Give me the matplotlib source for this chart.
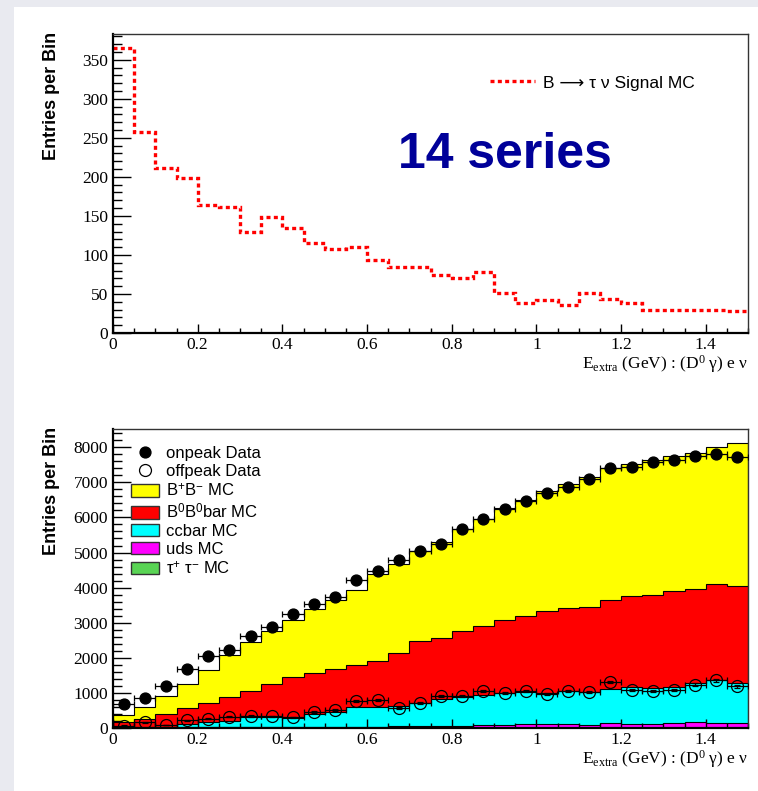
import numpy as np
import matplotlib
matplotlib.use("Agg")
import matplotlib.pyplot as plt
from matplotlib.lines import Line2D
from matplotlib.patches import Patch, Rectangle
from matplotlib.ticker import MultipleLocator

plt.rcParams['font.family'] = ['Liberation Sans', 'DejaVu Sans']
plt.rcParams['mathtext.fontset'] = 'custom'
plt.rcParams['mathtext.rm'] = 'Liberation Serif'
plt.rcParams['mathtext.sf'] = 'Liberation Sans'
plt.rcParams['mathtext.it'] = 'Liberation Serif:italic'

# ---- binning: 30 bins of 0.05 GeV in E_extra ----
bin_edges = np.round(np.arange(31) * 0.05, 2)
bin_centers = 0.5 * (bin_edges[:-1] + bin_edges[1:])

# ---- signal MC (upper pad) ----
signal_mc = [365, 257, 211, 198, 164, 161, 130, 149, 134, 115,
             108, 110, 94, 84, 84, 74, 70, 78, 51, 38,
             42, 36, 51, 44, 38, 30, 30, 30, 30, 28]

# ---- background MC components (lower pad), per bin ----
tautau_mc = [3, 3, 4, 4, 4, 5, 5, 5, 6, 6, 6, 7, 7, 8, 8,
             8, 9, 9, 10, 10, 10, 11, 11, 12, 12, 12, 13, 13, 14, 14]
uds_mc = [9, 9, 10, 11, 11, 13, 13, 15, 16, 24, 26, 28, 33, 58, 58,
          62, 61, 86, 85, 113, 104, 103, 84, 130, 111, 102, 129, 167, 138, 138]
ccbar_mc = [18, 28, 26, 108, 146, 172, 286, 284, 268, 369, 428, 565, 555, 559, 634,
            756, 813, 855, 902, 893, 883, 931, 921, 969, 1036, 1026, 1017, 1102, 1225, 1130]
b0b0bar_mc = [140, 210, 360, 437, 559, 680, 756, 956, 1150, 1181, 1220, 1200, 1305, 1510, 1780,
              1738, 1890, 1947, 2071, 2184, 2327, 2374, 2431, 2545, 2592, 2659, 2735, 2678, 2716, 2773]
bpbm_mc = [200, 360, 520, 700, 940, 1218, 1379, 1512, 1626, 1810, 1975, 2121, 2496, 2537, 2550,
           2726, 2897, 3058, 3200, 3305, 3438, 3542, 3704, 3752, 3780, 3846, 3846, 3875, 3903, 4065]

# ---- data ----
onpeak_data = [692, 850, 1205, 1681, 2040, 2231, 2630, 2866, 3248, 3541,
               3721, 4216, 4462, 4795, 5056, 5252, 5670, 5964, 6249, 6477,
               6695, 6866, 7094, 7408, 7427, 7569, 7626, 7759, 7806, 7712]
offpeak_data = [70, 160, 90, 220, 260, 320, 340, 330, 310, 450,
                520, 779, 790, 570, 720, 900, 920, 1045, 997, 1045,
                969, 1064, 1016, 1311, 1073, 1045, 1092, 1235, 1358, 1187]

stack_labels = [r'B$^{\mathsf{+}}$B$^{\mathsf{-}}$ MC', r'B$^{\mathsf{0}}$B$^{\mathsf{0}}$bar MC',
                'ccbar MC', 'uds MC', r'τ$^{\mathsf{+}}$ τ$^{\mathsf{-}}$ MC']
stack_colors = ['#ffff00', '#ff0000', '#00ffff', '#ff00ff', '#59d454']
signal_label = 'B ⟶ τ ν Signal MC'

x_title = r'E$_{\mathrm{extra}}$ (GeV) : (D$^{\mathrm{0}}$ γ) e ν'
serif = ['Liberation Serif', 'DejaVu Serif']

W, H = 758, 791
fig = plt.figure(figsize=(W / 100, H / 100), dpi=100, facecolor='#e9eaf0')
fig.patches.append(Rectangle((14 / W, 0), 1 - 14 / W, 1 - 7 / H, transform=fig.transFigure,
                             facecolor='white', edgecolor='none', zorder=-10))

ax_l, ax_w = 113 / W, 635 / W
ax_top = fig.add_axes([ax_l, 1 - 333 / H, ax_w, 299 / H])
ax_bot = fig.add_axes([ax_l, 1 - 728 / H, ax_w, 299 / H])


def style_axes(ax, ymajor, yminor):
    ax.set_xlim(0, 1.5)
    ax.xaxis.set_major_locator(MultipleLocator(0.2))
    ax.xaxis.set_minor_locator(MultipleLocator(0.05))
    ax.yaxis.set_major_locator(MultipleLocator(ymajor))
    ax.yaxis.set_minor_locator(MultipleLocator(yminor))
    ax.xaxis.set_major_formatter(plt.FuncFormatter(lambda v, p: f'{v:g}'))
    ax.tick_params(axis='both', labelfontfamily='Liberation Serif')
    ax.tick_params(axis='y', which='major', direction='in', length=13, width=1, pad=3.5,
                   labelsize=12.5, right=False)
    ax.tick_params(axis='y', which='minor', direction='in', length=6.5, width=1, right=False)
    ax.tick_params(axis='x', which='major', direction='in', length=6.5, width=1, pad=3,
                   labelsize=12.5, top=False)
    ax.tick_params(axis='x', which='minor', direction='in', length=3.3, width=1, top=False)
    for s in ('left', 'bottom'):
        ax.spines[s].set_linewidth(1.6)
        ax.spines[s].set_color('black')
    for s in ('top', 'right'):
        ax.spines[s].set_linewidth(1.0)
        ax.spines[s].set_color('#333333')
    ax.text(1.0, -31 / 299, x_title, transform=ax.transAxes, ha='right', va='center',
            fontsize=12.5, family=serif)


# ---- upper pad: signal MC ----
ax_top.stairs(signal_mc, bin_edges, baseline=None, color='#ff0000', lw=2.4,
              linestyle=(0, (1.2, 1.0)), label=signal_label)
ax_top.set_ylim(0, 383)
style_axes(ax_top, 50, 10)
ax_top.legend(loc='center left', bbox_to_anchor=((490 - 113) / 635, (333 - 83) / 299),
              frameon=False, fontsize=12.5, handlelength=2.6, handletextpad=0.45,
              borderpad=0, borderaxespad=0)
ax_top.text((505 - 113) / 635, (333 - 155) / 299, '14 series', transform=ax_top.transAxes,
            ha='center', va='center', fontsize=36, fontweight='bold', color='#000099')

# ---- lower pad: stacked backgrounds + data ----
components = [tautau_mc, uds_mc, ccbar_mc, b0b0bar_mc, bpbm_mc]
cumulative = np.cumsum(np.array(components, dtype=float), axis=0)
for level, color in zip(range(4, -1, -1), stack_colors):
    ax_bot.stairs(cumulative[level], bin_edges, baseline=0, fill=True,
                  facecolor=color, edgecolor='black', lw=0.8)

onpeak = np.array(onpeak_data, dtype=float)
offpeak = np.array(offpeak_data, dtype=float)
ax_bot.errorbar(bin_centers, onpeak, xerr=0.025, yerr=np.sqrt(onpeak), fmt='o', ms=7.8,
                color='black', mfc='black', mec='black', elinewidth=0.9, capsize=2.2,
                capthick=0.9, zorder=5)
ax_bot.errorbar(bin_centers, offpeak, xerr=0.025, yerr=np.sqrt(offpeak), fmt='o', ms=8.6,
                color='black', mfc='none', mec='black', mew=0.9, elinewidth=0.9, capsize=2.2,
                capthick=0.9, zorder=5)
ax_bot.set_ylim(0, 8520)
style_axes(ax_bot, 1000, 200)

handles = [Line2D([], [], ls='none', marker='o', ms=7.8, mfc='black', mec='black'),
           Line2D([], [], ls='none', marker='o', ms=8.6, mfc='none', mec='black', mew=0.9)]
handles += [Patch(facecolor=c, edgecolor='#333333', lw=1.0) for c in stack_colors]
labels = ['onpeak Data', 'offpeak Data'] + stack_labels
ax_bot.legend(handles, labels, loc='upper left', bbox_to_anchor=((131 - 113) / 635, 0.943),
              frameon=False, fontsize=12, handlelength=1.68, handleheight=0.78,
              handletextpad=0.4, labelspacing=0.17, borderpad=0, borderaxespad=0)

for ax in (ax_top, ax_bot):
    fig.text(52 / W, 1 - 32 / H if ax is ax_top else 1 - 427 / H, 'Entries per Bin',
             rotation=90, ha='center', va='top', fontsize=13, fontweight='bold')

fig.savefig('out.png', dpi=100, facecolor=fig.get_facecolor())
